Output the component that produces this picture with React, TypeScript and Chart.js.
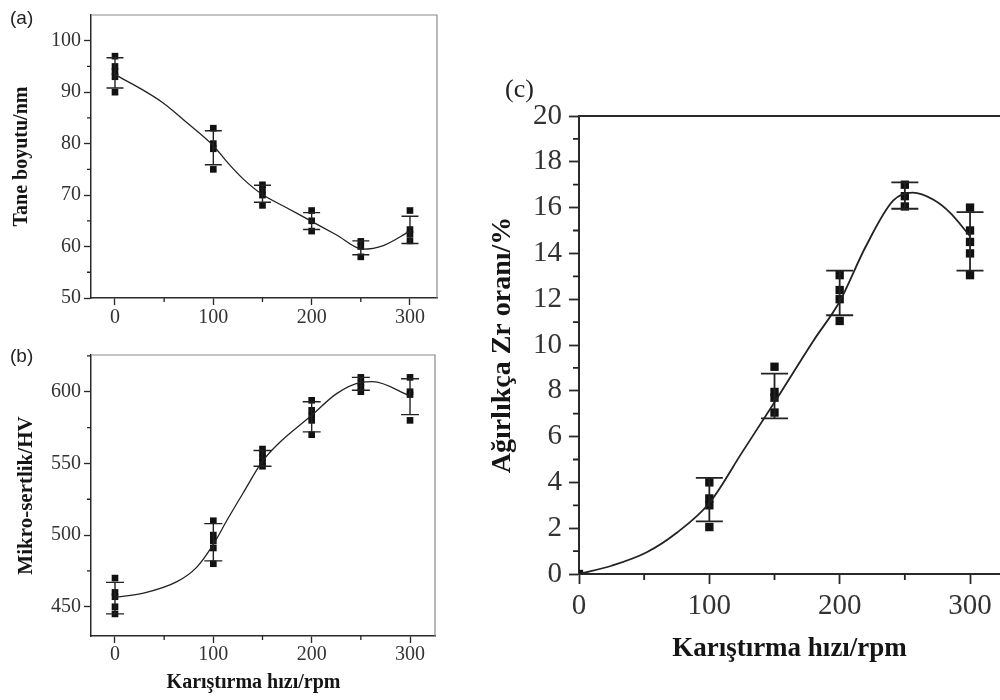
import React, { useEffect, useRef } from 'react';
import { Chart, registerables } from 'chart.js';

Chart.register(...registerables);

const SERIF = "'Liberation Serif', 'Times New Roman', serif";
const SANS = "'Liberation Sans', Arial, sans-serif";

// Shared x values (stirring speed, rpm)
const speeds = [0, 100, 150, 200, 250, 300];
const speedTicks = [0, 100, 200, 300];
const speedMinorTicks = [50, 150, 250];

// (a) Grain size / nm
const grainSamples = [
  [97, 95, 94, 93, 90],
  [83, 80, 79, 75],
  [72, 71, 70, 68],
  [67, 65, 63],
  [61, 60, 58],
  [67, 63.3, 62.4, 61.1],
];
const grainErrLow = [90.8, 75.9, 68.6, 63.3, 58.4, 60.6];
const grainErrHigh = [96.7, 82.5, 71.9, 66.6, 61.1, 65.9];
const grainFitX = [0, 25, 49, 73, 100, 115, 130, 150, 175, 200, 225, 252, 273, 300];
const grainFitY = [93.4, 90.8, 87.9, 84.1, 79.6, 76.2, 73.2, 70.1, 67.5, 64.9, 62.3, 59.5, 60.2, 63.0];
const grainTicks = [50, 60, 70, 80, 90, 100];
const grainMinorTicks = [55, 65, 75, 85, 95];

// (b) Micro-hardness / HV
const hardSamples = [
  [470, 460, 457, 450, 445],
  [510, 500, 496, 491, 480],
  [560, 557, 554, 551, 548],
  [594, 587, 583, 580, 570],
  [610, 606, 603, 600],
  [610, 600, 598, 580],
];
const hardErrLow = [445, 482, 548, 572, 601, 584];
const hardErrHigh = [467, 508, 559, 593, 610, 609];
const hardFitX = [0, 29, 63, 83, 100, 114, 130, 150, 165, 200, 225, 250, 262, 300];
const hardFitY = [456.6, 459.5, 467.5, 477.5, 493.5, 510.5, 529, 551.5, 563, 583.5, 598.5, 606.5, 607, 597];
const hardTicks = [450, 500, 550, 600];
const hardMinorTicks = [475, 525, 575, 625];

// (c) Zr weight fraction / %
const zrSamples = [
  [0],
  [4.0, 3.3, 3.0, 2.05],
  [9.05, 7.95, 7.7, 7.05],
  [13.05, 12.4, 12.0, 11.05],
  [17.0, 16.5, 16.05],
  [16.0, 15.0, 14.5, 14.0, 13.05],
];
const zrErrLow: (number | null)[] = [null, 2.3, 6.8, 11.3, 15.95, 13.25];
const zrErrHigh: (number | null)[] = [null, 4.2, 8.75, 13.25, 17.1, 15.8];
const zrFitX = [0, 25, 52, 75, 100, 125, 150, 180, 200, 220, 241, 256, 272, 285, 300];
const zrFitY = [0, 0.36, 0.95, 1.8, 3.1, 5.3, 7.5, 10.2, 11.9, 14.3, 16.3, 16.65, 16.34, 15.76, 14.75];
const zrTicks = [0, 2, 4, 6, 8, 10, 12, 14, 16, 18, 20];
const zrMinorTicks = [1, 3, 5, 7, 9, 11, 13, 15, 17, 19];

type Txt = { text: string; x: number; y: number; font: string; color?: string; align?: CanvasTextAlign };

type Decor = {
  errLow: (number | null)[];
  errHigh: (number | null)[];
  capHalf: number;
  errWidth: number;
  xMinor: number[];
  yMinor: number[];
  minorLen: number;
  minorWidth: number;
  frame: { color: string; width: number; right: boolean };
  texts: Txt[];
  color: string;
};

function makeDecor(d: Decor) {
  return {
    id: 'decor',
    afterDatasetsDraw(chart: any) {
      const { ctx } = chart;
      const xs = chart.scales.x;
      const ys = chart.scales.y;
      ctx.save();
      ctx.strokeStyle = d.color;
      ctx.lineWidth = d.errWidth;
      speeds.forEach((s, i) => {
        const lo = d.errLow[i];
        const hi = d.errHigh[i];
        if (lo == null || hi == null) return;
        const x = xs.getPixelForValue(s);
        const y1 = ys.getPixelForValue(lo);
        const y2 = ys.getPixelForValue(hi);
        ctx.beginPath();
        ctx.moveTo(x, y1);
        ctx.lineTo(x, y2);
        ctx.moveTo(x - d.capHalf, y1);
        ctx.lineTo(x + d.capHalf, y1);
        ctx.moveTo(x - d.capHalf, y2);
        ctx.lineTo(x + d.capHalf, y2);
        ctx.stroke();
      });
      ctx.restore();
    },
    afterDraw(chart: any) {
      const { ctx, chartArea: ca } = chart;
      const xs = chart.scales.x;
      const ys = chart.scales.y;
      ctx.save();
      ctx.strokeStyle = d.frame.color;
      ctx.lineWidth = d.frame.width;
      ctx.beginPath();
      ctx.moveTo(ca.left, ca.top);
      ctx.lineTo(ca.right, ca.top);
      if (d.frame.right) ctx.lineTo(ca.right, ca.bottom);
      ctx.stroke();
      ctx.strokeStyle = d.color;
      ctx.lineWidth = d.minorWidth;
      ctx.beginPath();
      d.xMinor.forEach((v) => {
        const x = xs.getPixelForValue(v);
        ctx.moveTo(x, ca.bottom);
        ctx.lineTo(x, ca.bottom + d.minorLen);
      });
      d.yMinor.forEach((v) => {
        const y = ys.getPixelForValue(v);
        ctx.moveTo(ca.left, y);
        ctx.lineTo(ca.left - d.minorLen, y);
      });
      ctx.stroke();
      d.texts.forEach((t) => {
        ctx.font = t.font;
        ctx.fillStyle = t.color || '#222';
        ctx.textAlign = t.align || 'left';
        ctx.textBaseline = 'middle';
        ctx.fillText(t.text, t.x, t.y);
      });
      ctx.restore();
    },
  };
}

type PanelCfg = {
  padding: { top: number; right: number; left: number; bottom: number };
  yWidth: number;
  xHeight: number;
  xMin: number;
  xMax: number;
  yMin: number;
  yMax: number;
  yTicks: number[];
  samples: number[][];
  fitX: number[];
  fitY: number[];
  tickSize: number;
  tickLen: number;
  xTickPad: number;
  yTickPad: number;
  yTitle: { text: string; size: number; pad: number };
  xTitle?: { text: string; size: number; pad: number };
  pointRadius: number;
  curveWidth: number;
  axisWidth: number;
  decor: Decor;
};

function buildChart(canvas: HTMLCanvasElement, p: PanelCfg) {
  const scatterData = speeds.flatMap((s, i) => p.samples[i].map((v) => ({ x: s, y: v })));
  const fitData = p.fitX.map((x, i) => ({ x, y: p.fitY[i] }));
  const axisColor = '#2a2a2a';
  const tickFont = { family: SERIF, size: p.tickSize };
  return new Chart(canvas, {
    type: 'scatter',
    data: {
      datasets: [
        {
          data: fitData,
          showLine: true,
          borderColor: '#222',
          borderWidth: p.curveWidth,
          pointRadius: 0,
          cubicInterpolationMode: 'monotone',
        } as any,
        {
          data: scatterData,
          pointStyle: 'rect',
          pointRadius: p.pointRadius,
          backgroundColor: '#111',
          borderColor: '#111',
          borderWidth: 0,
        } as any,
      ],
    },
    options: {
      responsive: false,
      animation: false,
      devicePixelRatio: 1,
      events: [],
      layout: { padding: p.padding },
      plugins: { legend: { display: false }, tooltip: { enabled: false } },
      scales: {
        x: {
          type: 'linear',
          min: p.xMin,
          max: p.xMax,
          afterBuildTicks: (s: any) => {
            s.ticks = speedTicks.map((v) => ({ value: v }));
          },
          afterFit: (s: any) => {
            s.height = p.xHeight;
          },
          grid: {
            drawOnChartArea: false,
            drawTicks: true,
            tickLength: p.tickLen,
            color: axisColor,
            tickWidth: p.axisWidth * 0.9,
          },
          border: { display: true, color: axisColor, width: p.axisWidth },
          ticks: { font: tickFont, color: '#333', padding: p.xTickPad, maxRotation: 0, autoSkip: false },
          title: p.xTitle
            ? {
                display: true,
                text: p.xTitle.text,
                color: '#151515',
                font: { family: SERIF, size: p.xTitle.size, weight: 'bold' },
                padding: { top: 0, bottom: p.xTitle.pad },
              }
            : { display: false },
        },
        y: {
          type: 'linear',
          min: p.yMin,
          max: p.yMax,
          afterBuildTicks: (s: any) => {
            s.ticks = p.yTicks.map((v) => ({ value: v }));
          },
          afterFit: (s: any) => {
            s.width = p.yWidth;
          },
          grid: {
            drawOnChartArea: false,
            drawTicks: true,
            tickLength: p.tickLen,
            color: axisColor,
            tickWidth: p.axisWidth * 0.9,
          },
          border: { display: true, color: axisColor, width: p.axisWidth },
          ticks: { font: tickFont, color: '#333', padding: p.yTickPad, autoSkip: false },
          title: {
            display: true,
            text: p.yTitle.text,
            color: '#151515',
            font: { family: SERIF, size: p.yTitle.size, weight: 'bold' },
            padding: { top: p.yTitle.pad, bottom: 0 },
          },
        },
      } as any,
    },
    plugins: [makeDecor(p.decor)],
  } as any);
}

export default function App() {
  const refA = useRef<HTMLCanvasElement>(null);
  const refB = useRef<HTMLCanvasElement>(null);
  const refC = useRef<HTMLCanvasElement>(null);

  useEffect(() => {
    const charts: Chart[] = [];
    if (refA.current) {
      charts.push(
        buildChart(refA.current, {
          padding: { top: 10, right: 33, left: 0, bottom: 0 },
          yWidth: 91,
          xHeight: 32,
          xMin: -24.4,
          xMax: 327.5,
          yMin: 50,
          yMax: 105,
          yTicks: grainTicks,
          samples: grainSamples,
          fitX: grainFitX,
          fitY: grainFitY,
          tickSize: 20,
          tickLen: 7,
          xTickPad: 1,
          yTickPad: 3,
          yTitle: { text: 'Tane boyutu/nm', size: 20, pad: 10 },
          pointRadius: 4.7,
          curveWidth: 1.3,
          axisWidth: 1.5,
          decor: {
            errLow: grainErrLow,
            errHigh: grainErrHigh,
            capHalf: 8.5,
            errWidth: 1.4,
            xMinor: speedMinorTicks,
            yMinor: grainMinorTicks,
            minorLen: 4,
            minorWidth: 1.3,
            frame: { color: '#8a8a8a', width: 1.2, right: true },
            texts: [{ text: '(a)', x: 10, y: 19, font: `19px ${SANS}`, color: '#222' }],
            color: '#222',
          },
        })
      );
    }
    if (refB.current) {
      charts.push(
        buildChart(refB.current, {
          padding: { top: 25, right: 35, left: 0, bottom: 0 },
          yWidth: 91,
          xHeight: 64,
          xMin: -24.4,
          xMax: 325.4,
          yMin: 429.6,
          yMax: 625.6,
          yTicks: hardTicks,
          samples: hardSamples,
          fitX: hardFitX,
          fitY: hardFitY,
          tickSize: 20,
          tickLen: 7,
          xTickPad: 0,
          yTickPad: 3,
          yTitle: { text: 'Mikro-sertlik/HV', size: 21, pad: 14 },
          pointRadius: 4.7,
          curveWidth: 1.3,
          axisWidth: 1.5,
          decor: {
            errLow: hardErrLow,
            errHigh: hardErrHigh,
            capHalf: 9,
            errWidth: 1.4,
            xMinor: speedMinorTicks,
            yMinor: hardMinorTicks,
            minorLen: 4,
            minorWidth: 1.3,
            frame: { color: '#8a8a8a', width: 1.2, right: true },
            texts: [
              { text: '(b)', x: 10, y: 26.5, font: `19px ${SANS}`, color: '#222' },
              {
                text: 'Karıştırma hızı/rpm',
                x: 253.5,
                y: 353,
                font: `bold 20px ${SERIF}`,
                color: '#151515',
                align: 'center',
              },
            ],
            color: '#222',
          },
        })
      );
    }
    if (refC.current) {
      charts.push(
        buildChart(refC.current, {
          padding: { top: 56, right: 40, left: 0, bottom: 0 },
          yWidth: 99,
          xHeight: 126,
          xMin: 0,
          xMax: 323,
          yMin: 0,
          yMax: 20,
          yTicks: zrTicks,
          samples: zrSamples,
          fitX: zrFitX,
          fitY: zrFitY,
          tickSize: 29,
          tickLen: 10,
          xTickPad: 5,
          yTickPad: 7,
          yTitle: { text: 'Ağırlıkça Zr oranı/%', size: 28, pad: 6 },
          xTitle: { text: 'Karıştırma hızı/rpm', size: 27, pad: 35 },
          pointRadius: 5.9,
          curveWidth: 1.8,
          axisWidth: 2,
          decor: {
            errLow: zrErrLow,
            errHigh: zrErrHigh,
            capHalf: 13.5,
            errWidth: 1.8,
            xMinor: speedMinorTicks,
            yMinor: zrMinorTicks,
            minorLen: 6,
            minorWidth: 1.8,
            frame: { color: '#2a2a2a', width: 2, right: false },
            texts: [{ text: '(c)', x: 25, y: 30, font: `26px ${SERIF}`, color: '#222' }],
            color: '#222',
          },
        })
      );
    }
    return () => {
      charts.forEach((c) => c.destroy());
    };
  }, []);

  return (
    <div
      style={{
        position: 'fixed',
        left: 0,
        top: 0,
        width: 1000,
        height: 700,
        overflow: 'hidden',
        background: '#fff',
      }}
    >
      <canvas ref={refA} width={470} height={330} style={{ position: 'absolute', left: 0, top: 0, display: 'block' }} />
      <canvas ref={refB} width={470} height={370} style={{ position: 'absolute', left: 0, top: 330, display: 'block' }} />
      <canvas ref={refC} width={560} height={640} style={{ position: 'absolute', left: 480, top: 60, display: 'block' }} />
    </div>
  );
}
